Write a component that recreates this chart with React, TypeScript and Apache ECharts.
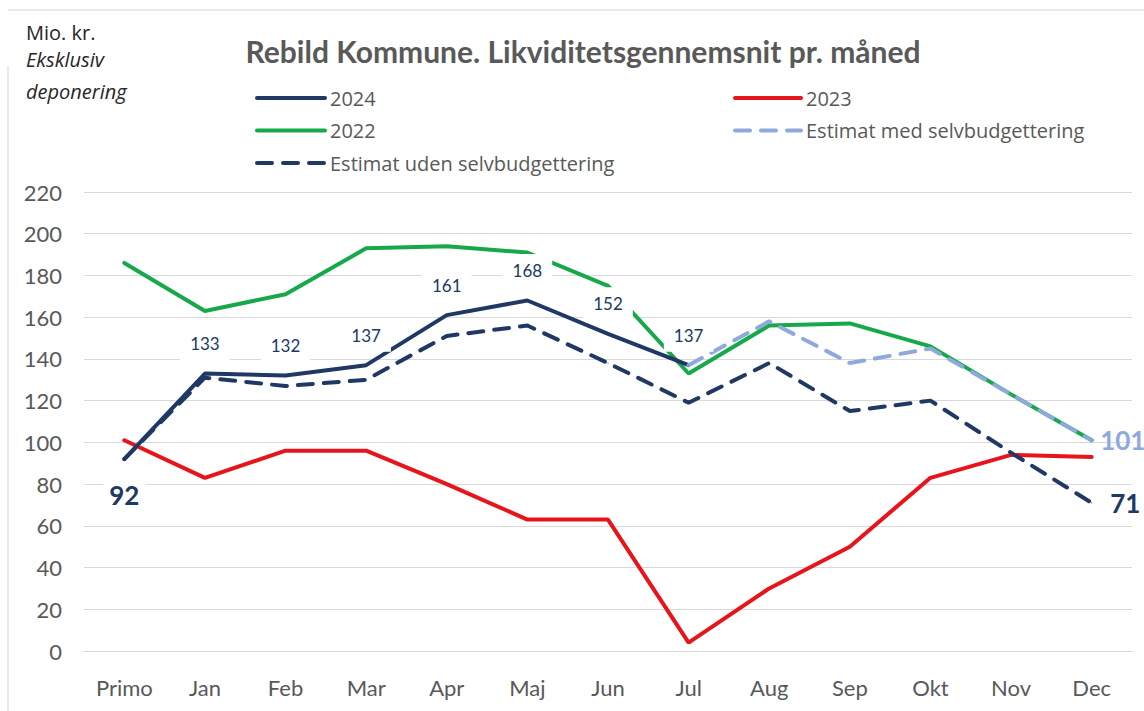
import React, { useEffect, useRef } from "react";
import * as echarts from "echarts";

const categories = ["Primo", "Jan", "Feb", "Mar", "Apr", "Maj", "Jun", "Jul", "Aug", "Sep", "Okt", "Nov", "Dec"];
const values2024: (number | null)[] = [92, 133, 132, 137, 161, 168, 152, 137, null, null, null, null, null];
const values2023: number[] = [101, 83, 96, 96, 80, 63, 63, 4, 30, 50, 83, 94, 93];
const values2022: number[] = [186, 163, 171, 193, 194, 191, 175, 133, 156, 157, 146, 123, 101];
const estimatUden: number[] = [92, 131, 127, 130, 151, 156, 138, 119, 138, 115, 120, 95, 71];
const estimatMed: (number | null)[] = [null, null, null, null, null, null, null, 137, 158, 138, 145, 123, 101];
const yTicks = { min: 0, max: 220, interval: 20 };

const NAVY = "#203864";
const RED = "#E8141B";
const GREEN = "#17A84B";
const LIGHT = "#8EA9DB";
const GRAY = "#595959";
const FONT = "Lato";
const FONT2 = "Open Sans";

export default function App() {
  const ref = useRef<HTMLDivElement>(null);
  useEffect(() => {
    if (!ref.current) return;
    const chart = echarts.init(ref.current, null, { renderer: "svg" });

    const smallLabel = {
      show: true,
      position: "top",
      distance: 13,
      fontFamily: FONT,
      fontSize: 17,
      color: NAVY,
      backgroundColor: "#ffffff",
      padding: [8, 10],
    };

    const data2024 = values2024.map((v, i) => {
      if (v === null) return null;
      if (i === 0) {
        return {
          value: v,
          label: {
            show: true,
            position: "bottom",
            distance: 18,
            fontFamily: FONT,
            fontSize: 26,
            fontWeight: "bold",
            color: NAVY,
            backgroundColor: "#ffffff",
            padding: [4, 6],
          },
        };
      }
      return { value: v, label: smallLabel };
    });

    const last = categories.length - 1;
    const dataUden = estimatUden.map((v, i) =>
      i === last
        ? {
            value: v,
            label: {
              show: true,
              position: "right",
              distance: 18,
              fontFamily: FONT,
              fontSize: 26,
              fontWeight: "bold",
              color: NAVY,
            },
          }
        : v
    );
    const dataMed = estimatMed.map((v, i) =>
      i === last
        ? {
            value: v,
            label: {
              show: true,
              position: "right",
              distance: 8,
              fontFamily: FONT,
              fontSize: 26,
              fontWeight: "bold",
              color: LIGHT,
            },
          }
        : v
    );

    const baseLine = (name: string, color: string, data: any[], dashed: boolean) => ({
      name,
      type: "line",
      data,
      symbol: "circle",
      symbolSize: 1,
      showSymbol: true,
      itemStyle: { color },
      lineStyle: { color, width: 4, type: dashed ? [15, 11] : "solid", cap: "round" },
      label: { show: false },
      connectNulls: false,
    });

    const legendText = { fontFamily: FONT2, fontSize: 20, color: GRAY, lineHeight: 20 };
    const legendBase = {
      orient: "vertical",
      top: 83,
      itemHeight: 20,
      itemGap: 12.5,
      itemStyle: { opacity: 0 },
      lineStyle: { width: 4 },
      textStyle: legendText,
    };

    const cornerText = (text: string, top: number, italic: boolean) => ({
      type: "text",
      left: 26,
      top,
      style: {
        text,
        fontFamily: FONT2,
        fontSize: 20,
        lineHeight: 22,
        fontStyle: italic ? "italic" : "normal",
        fill: "#262626",
      },
    });

    chart.setOption({
      animation: false,
      backgroundColor: "#ffffff",
      title: {
        text: "Rebild Kommune. Likviditetsgennemsnit pr. måned",
        left: 578,
        textAlign: "center",
        top: 31,
        textStyle: { fontFamily: FONT, fontSize: 30, fontWeight: "bold", color: GRAY },
      },
      legend: [
        { ...legendBase, left: 250, itemWidth: 68, data: ["2024", "2022", "Estimat uden selvbudgettering"] },
        { ...legendBase, left: 728, itemWidth: 66, data: ["2023", "Estimat med selvbudgettering"] },
      ],
      grid: { left: 84, right: 12, top: 192, height: 459 },
      xAxis: {
        type: "category",
        data: categories,
        boundaryGap: true,
        axisLine: { show: true, lineStyle: { color: "#d9d9d9" } },
        axisTick: { show: false },
        axisLabel: { fontFamily: FONT, fontSize: 22, color: GRAY, margin: 25 },
      },
      yAxis: {
        type: "value",
        min: yTicks.min,
        max: yTicks.max,
        interval: yTicks.interval,
        axisLine: { show: false },
        axisTick: { show: false },
        splitLine: { lineStyle: { color: "#d9d9d9", width: 1 } },
        axisLabel: { fontFamily: FONT, fontSize: 22, color: GRAY, margin: 22 },
      },
      graphic: [
        { type: "line", shape: { x1: 8, y1: 10, x2: 1144, y2: 10 }, style: { stroke: "#e3e3e3", lineWidth: 1.5 } },
        { type: "line", shape: { x1: 8, y1: 66, x2: 8, y2: 711 }, style: { stroke: "#e3e3e3", lineWidth: 1.5 } },
        cornerText("Mio. kr.", 21, false),
        cornerText("Eksklusiv", 48, true),
        cornerText("deponering", 80, true),
      ],
      series: [
        baseLine("2023", RED, values2023, false),
        baseLine("2022", GREEN, values2022, false),
        { ...baseLine("2024", NAVY, data2024, false) },
        baseLine("Estimat med selvbudgettering", LIGHT, dataMed, true),
        baseLine("Estimat uden selvbudgettering", NAVY, dataUden, true),
      ],
    });
    return () => chart.dispose();
  }, []);
  return <div ref={ref} style={{ position: "absolute", left: 0, top: 0, width: 1144, height: 711 }} />;
}
